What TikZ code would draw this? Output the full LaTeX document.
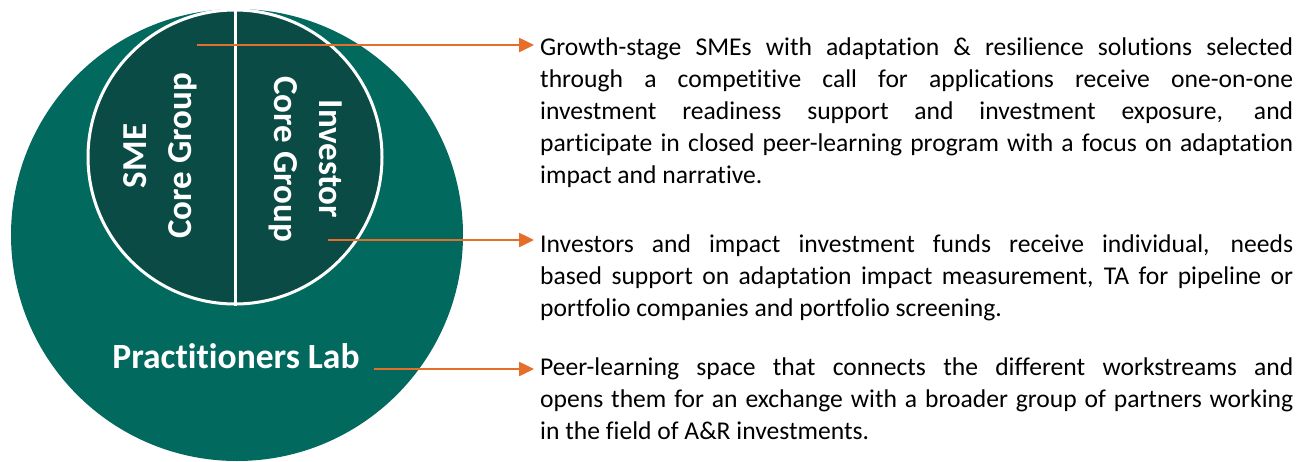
\documentclass[tikz,border=0pt]{standalone}
\usepackage{fontspec}
\setmainfont{Carlito}[Ligatures=NoCommon]
\usetikzlibrary{arrows.meta}
\definecolor{tealbig}{HTML}{02695F}
\definecolor{tealdark}{HTML}{0A4B45}
\definecolor{arrorange}{HTML}{E56E2A}
\tikzset{
  arr/.style={draw=arrorange, line width=2.5pt, -{Triangle[length=15pt,width=14pt]}},
  rottext/.style={text=white, font=\fontsize{35}{45}\selectfont\bfseries, align=center, inner sep=0pt},
  desc/.style={inner sep=0pt, anchor=base west, text=black}
}
\newcommand{\jline}[1]{\makebox[753pt][s]{#1}\\}
\newcommand{\descfont}{\fontsize{25.6}{32}\selectfont}
\begin{document}
\begin{tikzpicture}[x=1pt,y=-1pt]
\useasboundingbox (0,0) rectangle (1306,461);
\fill[white] (0,0) rectangle (1306,461);
% circles
\begin{scope}
\clip (0,0) rectangle (1306,461);
\node[circle, fill=tealbig, minimum size=452pt, inner sep=0pt] (lab) at (237,235) {};
\end{scope}
\node[circle, fill=tealdark, draw=white, line width=3pt, minimum size=294pt, inner sep=0pt] (core) at (235,157) {};
\draw[white, line width=3pt] (core.north) -- (core.south);
% labels
\node[rottext, rotate=90] (sme) at (160,156) {SME\\Core Group};
\node[rottext, rotate=-90] (inv) at (306,159) {Investor\\Core Group};
\node[text=white, font=\fontsize{35.5}{40}\selectfont\bfseries, inner sep=0pt, anchor=base] (pl) at (236,368) {Practitioners Lab};
% descriptions
\node[desc] (t1) at (540,55) {\parbox[t]{753pt}{\descfont
\jline{Growth-stage SMEs with adaptation \& resilience solutions selected}
\jline{through a competitive call for applications receive one-on-one}
\jline{investment readiness support and investment exposure, and}
\jline{participate in closed peer-learning program with a focus on adaptation}
impact and narrative.}};
\node[desc] (t2) at (540,252) {\parbox[t]{753pt}{\descfont
\jline{Investors and impact investment funds receive individual, needs}
\jline{based support on adaptation impact measurement, TA for pipeline or}
portfolio companies and portfolio screening.}};
\node[desc] (t3) at (540,375) {\parbox[t]{753pt}{\descfont
\jline{Peer-learning space that connects the different workstreams and}
\jline{opens them for an exchange with a broader group of partners working}
in the field of A\&R investments.}};
% connectors
\coordinate (s1) at (197,45);
\coordinate (e1) at (534,45);
\coordinate (s2) at (328,240);
\coordinate (e2) at (534,240);
\coordinate (s3) at (374,369);
\coordinate (e3) at (534,369);
\draw[arr] (s1) -- (e1);
\draw[arr] (s2) -- (e2);
\draw[arr] (s3) -- (e3);
\end{tikzpicture}
\end{document}
